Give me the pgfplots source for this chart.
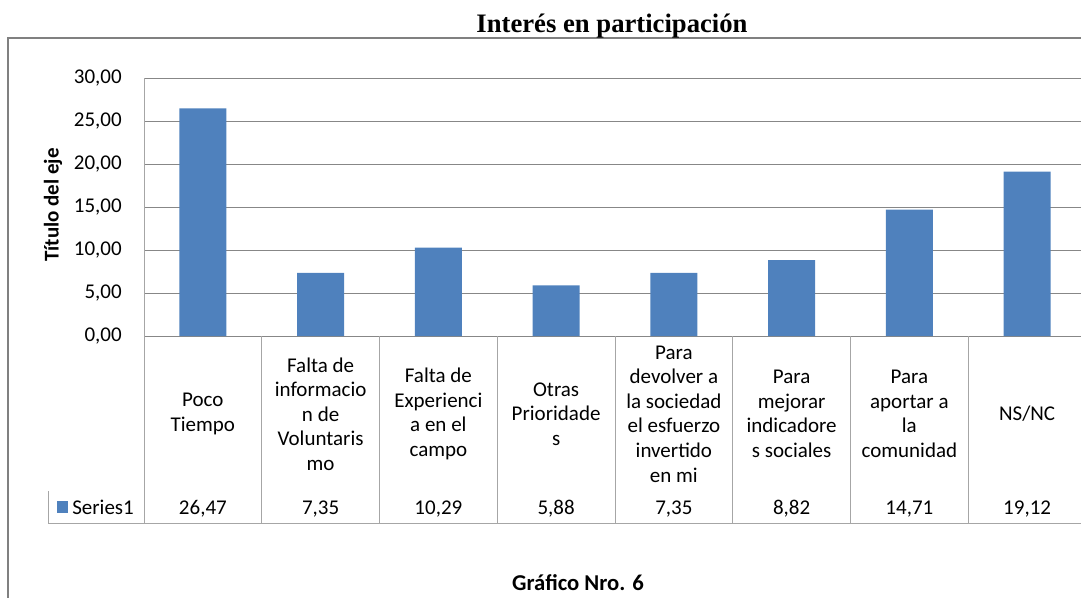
\documentclass[border=0pt]{standalone}
\usepackage{pgfplots}
\pgfplotsset{compat=1.18}
\usepackage{fontspec}
\setmainfont{Carlito}
\newfontfamily\titlefont{Liberation Serif}
\definecolor{barblue}{HTML}{4F81BD}
\definecolor{gridgray}{HTML}{878787}
\definecolor{tablegray}{HTML}{A6A6A6}
\definecolor{framegray}{HTML}{808080}
\newcommand\lbl{\fontsize{15.75}{18.45}\selectfont}

\begin{document}
\begin{tikzpicture}[x=0.75pt, y=-0.75pt]
\useasboundingbox (0,0) rectangle (1081,597);
\clip (0,0) rectangle (1081,597);
\coordinate (sw) at (144,336);
\begin{axis}[
    at={(sw)}, anchor=south west,
    scale only axis, width=706.5pt, height=193.5pt,
    xmin=0.5, xmax=8.5, ymin=0, ymax=30,
    axis x line*=bottom, axis y line*=left,
    x axis line style={-, gridgray, line width=0.75pt},
    y axis line style={-, tablegray, line width=0.75pt},
    ytick={0,5,...,30},
    ymajorgrids, grid style={gridgray, line width=0.75pt},
    major tick length=0pt,
    /pgf/number format/fixed,
    /pgf/number format/fixed zerofill,
    /pgf/number format/precision=2,
    /pgf/number format/use comma,
    /pgf/number format/assume math mode=true,
    yticklabel style={font=\lbl, inner sep=0pt, xshift=-16.5pt},
    xtick={1,...,8},
    xticklabels={
        {Poco\\Tiempo},
        {Falta de\\informacio\\n de\\Voluntaris\\mo},
        {Falta de\\Experienci\\a en el\\campo},
        {Otras\\Prioridade\\s},
        {Para\\devolver a\\la sociedad\\el esfuerzo\\invertido\\en mi},
        {Para\\mejorar\\indicadore\\s sociales},
        {Para\\aportar a\\la\\comunidad},
        {NS/NC}},
    xticklabel style={font=\lbl, align=center, anchor=center, inner sep=0pt, yshift=-58.5pt},
    ybar, bar width=35.25pt,
]
\addplot[fill=barblue, draw=none] coordinates {
    (1,26.47) (2,7.35) (3,10.29) (4,5.88) (5,7.35) (6,8.82) (7,14.71) (8,19.12)};
\end{axis}
% data table below the plot
\foreach \k in {0,...,8}
    \draw[tablegray, line width=0.75pt] ({144+117.75*\k},336) -- ({144+117.75*\k},523);
\draw[tablegray, line width=0.75pt] (48,491) -- (48,523) -- (1090,523);
\foreach \v [count=\k] in {{26,47},{7,35},{10,29},{5,88},{7,35},{8,82},{14,71},{19,12}}
    \node[anchor=base, font=\lbl, inner sep=0pt] at ({144+117.75*(\k-0.5)},514) {\v};
\fill[barblue] (57,501) rectangle (68,513);
\node[anchor=base west, font=\lbl, inner sep=0pt] at (72,514) {Series1};
% titles and frame
\draw[framegray, line width=1.5pt] (8,600) -- (8,38) -- (1090,38);
\node[anchor=base, inner sep=0pt, font=\titlefont\fontsize{20}{24}\selectfont\bfseries] at (612,32) {Interés en participación};
\node[rotate=90, font=\lbl\bfseries, inner sep=0pt] at (53,205) {Título del eje};
\node[anchor=base, inner sep=0pt, font=\fontsize{17}{20}\selectfont\bfseries] at (578,590) {Gráfico Nro. 6};
\end{tikzpicture}
\end{document}
